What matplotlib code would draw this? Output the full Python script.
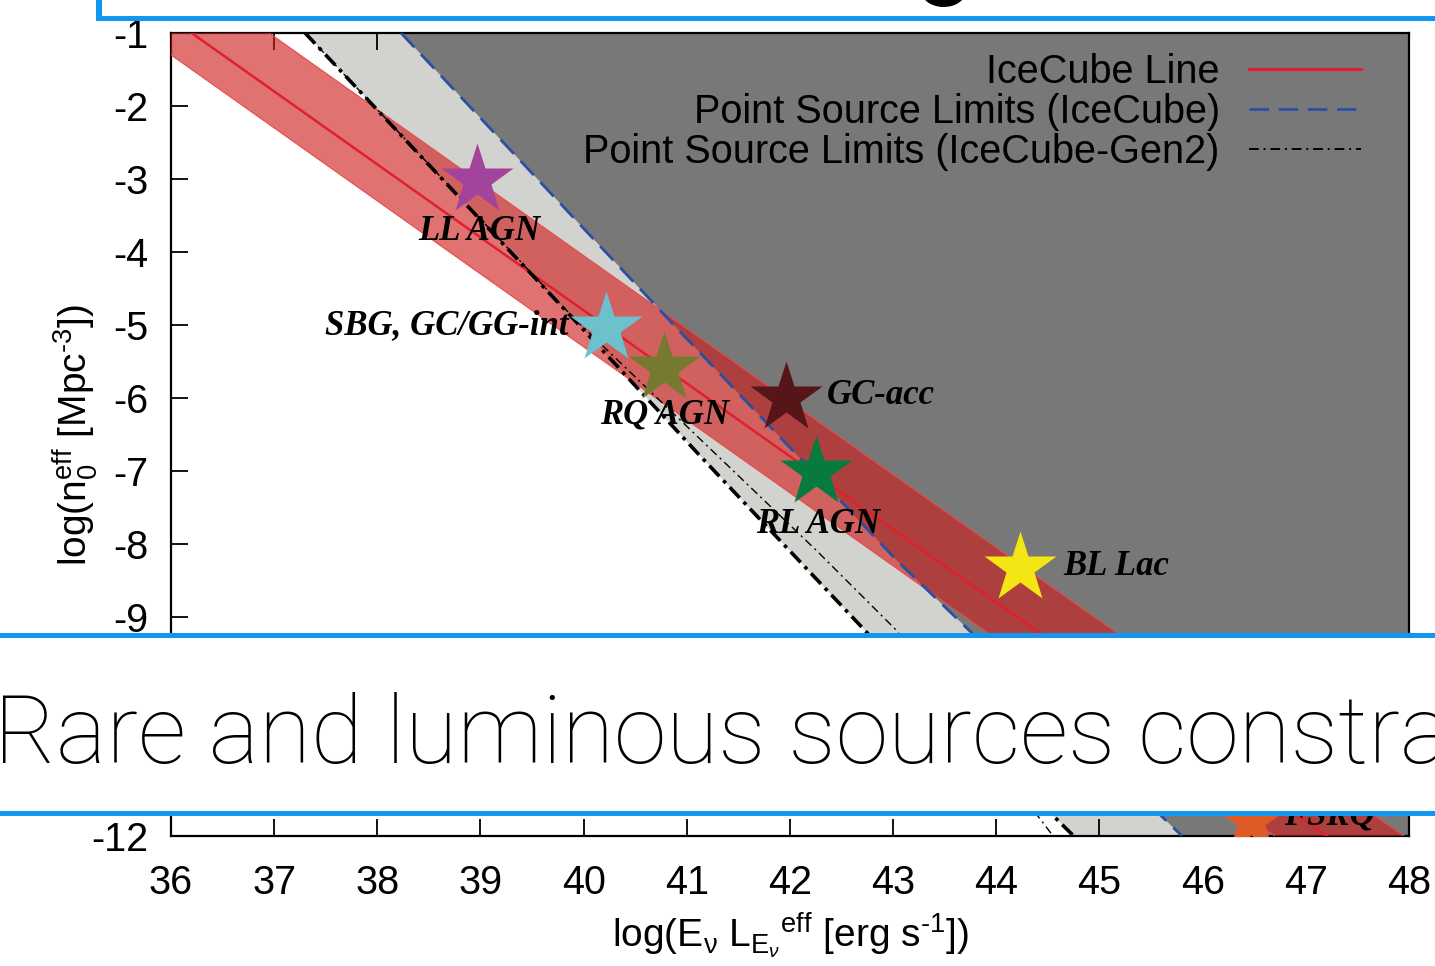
import matplotlib

matplotlib.use("Agg")
import matplotlib.pyplot as plt
from matplotlib.lines import Line2D
from matplotlib.patches import Rectangle

plt.rcParams["font.family"] = ["Liberation Sans", "DejaVu Sans"]
plt.rcParams["mathtext.fontset"] = "custom"
plt.rcParams["mathtext.rm"] = "Liberation Sans"
plt.rcParams["mathtext.it"] = "Liberation Sans:italic"

# IceCube diffuse line and its band (end points)
icecube_x = [36.20, 47.20]
icecube_y = [-1.0, -12.0]
band_low_x = [35.70, 46.70]
band_high_x = [36.95, 47.95]
band_y = [-1.0, -12.0]

# point source limits
ps_ic_x = [38.23, 40.92, 43.06, 45.80]
ps_ic_y = [-1.0, -5.07, -8.26, -12.0]
ps_gen2_x = [37.30, 39.91, 41.12, 42.75, 44.75]
ps_gen2_y = [-1.0, -4.93, -6.78, -9.22, -12.0]
ps_gen2_alt_x = [37.30, 39.90, 42.25, 43.03, 44.55]
ps_gen2_alt_y = [-1.0, -4.90, -8.08, -9.18, -12.0]

# source classes
sources = ["LL AGN", "SBG, GC/GG-int", "RQ AGN", "GC-acc", "RL AGN", "BL Lac", "FSRQ"]
src_x = [38.97, 40.22, 40.78, 41.96, 42.25, 44.23, 46.47]
src_y = [-3.01, -5.04, -5.59, -6.00, -7.01, -8.33, -11.79]
src_colors = ["#a2449b", "#6cc1cc", "#767a30", "#561519", "#077a3d", "#f4e514", "#e05a28"]

x_ticks = list(range(36, 49))
y_ticks = list(range(-12, 0))
# -10 and -11 sit under the caption band of the slide
y_ticklabels = ["" if v in (-10, -11) else str(v) for v in y_ticks]

# label placement: offset in points, horizontal alignment
label_place = [
    ((1.5, -37), "center"),
    ((-27, 2), "right"),
    ((0.7, -34), "center"),
    ((29.5, 2), "left"),
    ((1.5, -38), "center"),
    ((31.5, 1.5), "left"),
    ((24, 3), "left"),
]

fig = plt.figure(figsize=(14.35, 9.66), dpi=100)
ax = fig.add_axes([0.11916, 0.13458, 0.86272, 0.83126])
xmin, xmax, ymin, ymax = 36, 48, -12, -1
ax.set_xlim(xmin, xmax)
ax.set_ylim(ymin, ymax)

# excluded regions
ax.fill(ps_gen2_x + [xmax + 1, xmax + 1], ps_gen2_y + [ymin, ymax],
        color="#d2d3ce", lw=0, zorder=1)
ax.fill(ps_ic_x + [xmax + 1, xmax + 1], ps_ic_y + [ymin, ymax],
        color="#787878", lw=0, zorder=2)

# IceCube band
ax.fill(band_low_x + band_high_x[::-1], band_y + band_y[::-1],
        color="#d01c1c", alpha=0.62, lw=0, zorder=3)
ax.plot(band_low_x, band_y, color="#e84a4a", lw=0.8, zorder=3)
ax.plot(band_high_x, band_y, color="#e84a4a", lw=0.8, zorder=3)
ax.plot(icecube_x, icecube_y, color="#e0202a", lw=1.8, zorder=4)

ax.plot(ps_ic_x, ps_ic_y, color="#2b4fa2", lw=2.0, dashes=(7, 3.5), zorder=4)
ax.plot(ps_gen2_x, ps_gen2_y, color="black", lw=2.6, dashes=(4, 1.6, 1, 1.6), zorder=4)
ax.plot(ps_gen2_alt_x, ps_gen2_alt_y, color="black", lw=1.0, dashes=(6, 3, 1.5, 3), zorder=4)

for name, x, y, c, (off, ha) in zip(sources, src_x, src_y, src_colors, label_place):
    ax.plot(x, y, marker="*", ms=54, color=c, mec="none", zorder=5)
    ax.annotate(name, (x, y), xytext=off, textcoords="offset points",
                ha=ha, va="center", fontsize=25, family="Liberation Serif",
                weight="bold", style="italic", zorder=6)

ax.set_xticks(x_ticks)
ax.set_xticklabels([str(v) for v in x_ticks])
ax.set_yticks(y_ticks)
ax.set_yticklabels(y_ticklabels)
ax.tick_params(direction="in", length=12, width=1.3, top=True, right=True,
               labelsize=28.5)
ax.tick_params(axis="x", pad=20)
ax.tick_params(axis="y", pad=16)
for sp in ax.spines.values():
    sp.set_linewidth(1.6)

ax.set_xlabel(r"log(E$_{\rm \nu}$ L$_{{\rm E}_{\nu}}$$^{\rm eff}$ [erg s$^{\text{-1}}$])",
              fontsize=28, labelpad=6)
ax.set_ylabel(r"log(n$_{\rm 0}^{\rm eff}$ [Mpc$^{\text{-3}}$])", fontsize=28,
              labelpad=-6)

handles = [
    Line2D([], [], color="#e0202a", lw=2.2),
    Line2D([], [], color="#2b4fa2", lw=2.0, dashes=(7, 3.5)),
    Line2D([], [], color="black", lw=1.4, dashes=(5, 2.5, 1, 2.5)),
]
labels = ["IceCube Line", "Point Source Limits (IceCube)",
          "Point Source Limits (IceCube-Gen2)"]
ax.legend(handles, labels, loc="upper right", bbox_to_anchor=(1.0, 1.034),
          frameon=False, markerfirst=False, fontsize=28.5, handlelength=2.85,
          handletextpad=0.73, borderpad=0.2, borderaxespad=1.0, labelspacing=0.05)

# slide overlay: title box edge at top and caption band across the chart
blue = "#1296f0"
fig.add_artist(Rectangle((0.0, 0.1564), 1.0, 0.1884, transform=fig.transFigure,
                         facecolor="white", edgecolor="none", zorder=20))
fig.add_artist(Rectangle((0.0, 0.3398), 1.0, 0.0052, transform=fig.transFigure,
                         facecolor=blue, edgecolor="none", zorder=21))
fig.add_artist(Rectangle((0.0, 0.1553), 1.0, 0.0052, transform=fig.transFigure,
                         facecolor=blue, edgecolor="none", zorder=21))
fig.add_artist(Rectangle((0.0690, 0.9793), 0.94, 0.03, transform=fig.transFigure,
                         facecolor="white", edgecolor="none", zorder=20))
fig.add_artist(Rectangle((0.0690, 0.9783), 0.94, 0.0052, transform=fig.transFigure,
                         facecolor=blue, edgecolor="none", zorder=21))
fig.add_artist(Rectangle((0.0669, 0.9783), 0.0042, 0.03, transform=fig.transFigure,
                         facecolor=blue, edgecolor="none", zorder=21))

# tail of the slide title, mostly above the picture
fig.text(0.6585, 1.0135, "g", fontsize=68.5, family=["Roboto", "Liberation Sans"],
         weight="bold", ha="center", va="baseline", zorder=22)

fig.text(-0.004, 0.2101, "Rare and luminous sources constra", fontsize=68.5,
         family=["Roboto", "Liberation Sans"], weight="light",
         ha="left", va="baseline", zorder=22)

fig.savefig("out.png", dpi=100)
